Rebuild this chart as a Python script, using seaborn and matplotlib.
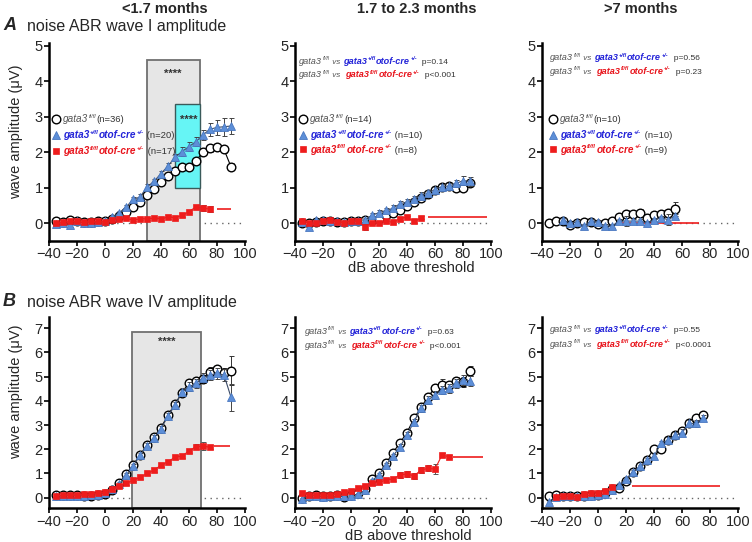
import matplotlib
matplotlib.use("Agg")
import matplotlib.pyplot as plt
from matplotlib.patches import Rectangle
import seaborn as sns

# ---------------- data (dB above threshold / wave amplitude, uV) ----------------
# A: wave I, <1.7 months
db_a1 = list(range(-35, 95, 5))
wt_a1 = [0.05, 0.03, 0.10, 0.05, 0.03, 0.03, 0.05, 0.05, 0.12, 0.20, 0.33, 0.45, 0.60,
         0.80, 0.97, 1.17, 1.33, 1.47, 1.59, 1.59, 1.76, 2.01, 2.11, 2.15, 2.08, 1.59]
wt_a1_err = [0.03, 0.03, 0.04, 0.03, 0.03, 0.03, 0.03, 0.03, 0.04, 0.05, 0.05, 0.06, 0.06,
             0.07, 0.07, 0.08, 0.08, 0.08, 0.08, 0.08, 0.08, 0.09, 0.09, 0.09, 0.10, 0.10]
het_a1 = [-0.02, 0.02, -0.05, 0.05, 0.00, 0.02, 0.03, 0.05, 0.17, 0.29, 0.45, 0.67, 0.74,
          1.02, 1.18, 1.40, 1.61, 1.86, 2.02, 2.16, 2.30, 2.49, 2.65, 2.70, 2.72, 2.74]
het_a1_err = [0.04, 0.04, 0.06, 0.04, 0.04, 0.04, 0.04, 0.04, 0.05, 0.06, 0.07, 0.08, 0.08,
              0.08, 0.08, 0.08, 0.09, 0.10, 0.12, 0.13, 0.13, 0.14, 0.18, 0.22, 0.25, 0.22]
db_a1_ko = list(range(-35, 80, 5))
ko_a1 = [0.00, 0.03, 0.05, 0.05, 0.03, 0.05, 0.05, 0.03, 0.10, 0.12, 0.14, 0.09,
         0.12, 0.13, 0.14, 0.13, 0.17, 0.16, 0.22, 0.33, 0.46, 0.42, 0.40]
ko_a1_err = [0.02, 0.02, 0.02, 0.02, 0.02, 0.02, 0.02, 0.02, 0.03, 0.03, 0.03, 0.03,
             0.03, 0.03, 0.03, 0.03, 0.04, 0.04, 0.04, 0.05, 0.06, 0.08, 0.09]
ko_a1_line = (80, 90, 0.40)

# A: wave I, 1.7 to 2.3 months
db_a2 = list(range(-35, 90, 5))
wt_a2 = [0.00, 0.00, 0.03, 0.05, 0.05, 0.03, 0.03, 0.05, 0.05, 0.08, 0.10, 0.13, 0.24,
         0.29, 0.38, 0.48, 0.60, 0.72, 0.82, 0.93, 1.02, 1.05, 1.00, 0.98, 1.12]
wt_a2_err = [0.03, 0.03, 0.03, 0.03, 0.03, 0.03, 0.03, 0.03, 0.03, 0.04, 0.04, 0.05, 0.05,
             0.05, 0.05, 0.06, 0.06, 0.06, 0.06, 0.06, 0.07, 0.07, 0.07, 0.08, 0.08]
het_a2 = [0.03, -0.10, 0.08, 0.08, 0.05, 0.05, 0.03, 0.07, 0.07, 0.10, 0.22, 0.30, 0.36,
          0.42, 0.55, 0.60, 0.68, 0.78, 0.85, 0.95, 1.03, 1.05, 1.12, 1.20, 1.18]
het_a2_err = [0.04, 0.05, 0.04, 0.04, 0.04, 0.04, 0.04, 0.04, 0.04, 0.05, 0.06, 0.07, 0.08,
              0.08, 0.09, 0.09, 0.09, 0.09, 0.08, 0.08, 0.08, 0.08, 0.10, 0.12, 0.13]
db_a2_ko = list(range(-35, 55, 5))
ko_a2 = [0.07, 0.00, 0.00, 0.07, 0.08, 0.03, 0.02, 0.05, 0.05, -0.10, 0.00, 0.02,
         0.05, 0.03, 0.13, 0.17, 0.05, 0.15]
ko_a2_err = [0.03, 0.03, 0.03, 0.03, 0.03, 0.03, 0.03, 0.03, 0.03, 0.09, 0.03, 0.03,
             0.03, 0.03, 0.04, 0.04, 0.04, 0.04]
ko_a2_line = (55, 97, 0.17)

# A: wave I, >7 months
db_a3 = list(range(-35, 60, 5))
wt_a3 = [0.00, 0.05, 0.05, -0.04, 0.00, 0.03, 0.03, -0.02, 0.00, 0.05, 0.18, 0.27,
         0.27, 0.29, 0.16, 0.22, 0.27, 0.29, 0.39]
wt_a3_err = [0.03, 0.03, 0.03, 0.03, 0.03, 0.03, 0.03, 0.03, 0.04, 0.05, 0.06, 0.10,
             0.08, 0.12, 0.06, 0.08, 0.10, 0.10, 0.20]
db_a3_het = list(range(-25, 60, 5))
het_a3 = [0.10, 0.00, 0.03, -0.08, 0.07, 0.04, -0.08, -0.08, 0.06, 0.06, 0.06, 0.06,
          0.00, 0.10, 0.16, 0.10, 0.20]
het_a3_err = [0.04, 0.04, 0.04, 0.05, 0.04, 0.04, 0.05, 0.05, 0.05, 0.15, 0.05, 0.05,
              0.05, 0.05, 0.05, 0.15, 0.06]
ko_a3_line = (15, 72, 0.0)

# B: wave IV, <1.7 months
db_b1 = list(range(-35, 95, 5))
wt_b1 = [0.10, 0.10, 0.10, 0.10, 0.08, 0.05, 0.12, 0.15, 0.32, 0.60, 0.98, 1.35, 1.76,
         2.18, 2.52, 2.89, 3.42, 3.86, 4.34, 4.75, 4.83, 4.89, 5.20, 5.30, 5.17, 5.25]
wt_b1_err = [0.04, 0.04, 0.04, 0.04, 0.04, 0.04, 0.04, 0.05, 0.06, 0.08, 0.10, 0.10, 0.12,
             0.12, 0.12, 0.12, 0.13, 0.14, 0.15, 0.15, 0.15, 0.15, 0.18, 0.15, 0.20, 0.60]
het_b1 = [0.05, 0.08, 0.08, 0.08, 0.08, 0.10, 0.12, 0.20, 0.35, 0.55, 0.92, 1.30, 1.75,
          2.15, 2.45, 2.85, 3.38, 3.82, 4.38, 4.58, 4.72, 4.96, 5.07, 5.14, 5.07, 4.15]
het_b1_err = [0.04, 0.04, 0.04, 0.04, 0.04, 0.04, 0.05, 0.05, 0.06, 0.08, 0.10, 0.10, 0.10,
              0.12, 0.12, 0.12, 0.13, 0.14, 0.15, 0.18, 0.18, 0.18, 0.20, 0.22, 0.25, 0.55]
db_b1_ko = list(range(-35, 80, 5))
ko_b1 = [0.07, 0.11, 0.12, 0.12, 0.14, 0.15, 0.20, 0.23, 0.37, 0.50, 0.59, 0.73,
         0.84, 1.00, 1.14, 1.34, 1.49, 1.67, 1.72, 1.93, 2.11, 2.13, 2.08]
ko_b1_err = [0.03, 0.03, 0.03, 0.03, 0.03, 0.03, 0.04, 0.04, 0.05, 0.05, 0.05, 0.05,
             0.06, 0.06, 0.06, 0.07, 0.07, 0.08, 0.08, 0.09, 0.10, 0.15, 0.08]
ko_b1_line = (78, 89, 2.15)

# B: wave IV, 1.7 to 2.3 months
db_b2 = list(range(-35, 90, 5))
wt_b2 = [-0.03, 0.08, 0.10, 0.05, 0.08, 0.10, 0.04, 0.10, 0.18, 0.34, 0.76, 1.00, 1.42,
         1.86, 2.27, 2.69, 3.28, 3.73, 4.17, 4.55, 4.66, 4.66, 4.82, 4.79, 5.23]
wt_b2_err = [0.04, 0.04, 0.04, 0.04, 0.04, 0.04, 0.04, 0.05, 0.05, 0.06, 0.08, 0.08, 0.10,
             0.10, 0.12, 0.12, 0.13, 0.14, 0.15, 0.15, 0.25, 0.18, 0.18, 0.20, 0.22]
het_b2 = [-0.05, 0.08, 0.08, 0.02, 0.05, 0.05, 0.05, 0.08, 0.15, 0.30, 0.70, 0.95, 1.35,
          1.72, 2.10, 2.59, 3.14, 3.69, 4.04, 4.24, 4.45, 4.52, 4.72, 4.86, 4.83]
het_b2_err = [0.04, 0.04, 0.04, 0.04, 0.04, 0.04, 0.04, 0.05, 0.05, 0.06, 0.08, 0.08, 0.10,
              0.10, 0.12, 0.12, 0.13, 0.14, 0.15, 0.15, 0.18, 0.18, 0.18, 0.20, 0.20]
db_b2_ko = list(range(-35, 75, 5))
ko_b2 = [0.20, 0.11, 0.11, 0.11, 0.11, 0.14, 0.25, 0.29, 0.39, 0.50, 0.60, 0.63,
         0.73, 0.77, 0.94, 0.98, 0.90, 1.14, 1.21, 1.18, 1.76, 1.69]
ko_b2_err = [0.04, 0.03, 0.03, 0.03, 0.03, 0.03, 0.04, 0.04, 0.05, 0.05, 0.06, 0.06,
             0.07, 0.07, 0.12, 0.12, 0.12, 0.12, 0.12, 0.22, 0.08, 0.06]
ko_b2_line = (73, 94, 1.70)

# B: wave IV, >7 months
db_b3 = list(range(-35, 80, 5))
wt_b3 = [0.07, 0.10, 0.05, 0.05, 0.05, 0.08, 0.10, 0.10, 0.18, 0.35, 0.39, 0.67,
         1.08, 1.32, 1.57, 2.03, 2.03, 2.40, 2.58, 2.75, 3.10, 3.30, 3.42]
wt_b3_err = [0.03, 0.03, 0.03, 0.03, 0.03, 0.03, 0.04, 0.04, 0.05, 0.06, 0.06, 0.07,
             0.08, 0.08, 0.10, 0.12, 0.12, 0.12, 0.12, 0.15, 0.15, 0.15, 0.12]
het_b3 = [-0.17, 0.04, 0.05, 0.05, 0.05, 0.08, 0.08, 0.10, 0.15, 0.30, 0.53, 0.76,
          1.08, 1.29, 1.54, 1.71, 2.24, 2.38, 2.58, 2.68, 3.07, 3.07, 3.30]
het_b3_err = [0.05, 0.04, 0.04, 0.04, 0.04, 0.04, 0.04, 0.05, 0.05, 0.06, 0.07, 0.08,
              0.08, 0.08, 0.10, 0.10, 0.12, 0.12, 0.12, 0.14, 0.15, 0.15, 0.12]
db_b3_ko = list(range(-30, 15, 5))
ko_b3 = [0.04, 0.08, 0.07, 0.04, 0.14, 0.20, 0.20, 0.29, 0.42]
ko_b3_err = [0.03, 0.03, 0.03, 0.03, 0.03, 0.04, 0.04, 0.05, 0.05]
ko_b3_line = (24, 87, 0.50)

n_counts = {"a1": (36, 20, 17), "a2": (14, 10, 8), "a3": (10, 10, 9)}
p_values = {"a2": ("p=0.14", "p<0.001"), "a3": ("p=0.56", "p=0.23"),
            "b2": ("p=0.63", "p<0.001"), "b3": ("p=0.55", "p<0.0001")}
age_titles = ["<1.7 months", "1.7 to 2.3 months", ">7 months"]

# ---------------- style ----------------
sns.set_style("ticks")
plt.rcParams["font.family"] = ["Liberation Sans", "DejaVu Sans"]

GRAY_TXT = "#555555"
BLUE_TXT = "#2323d8"
RED_TXT = "#e8141c"
BLUE = "#5d8fd8"
RED = "#ee1c1c"

STYLES = {
    "wt": dict(marker="o", ms=6.2, face="white", edge="black", mew=1.0, line="black", ecolor="#333333"),
    "het": dict(marker="^", ms=5.8, face=BLUE, edge="#4a78c0", mew=0.6, line="#3a4a66", ecolor="#444444"),
    "ko": dict(marker="s", ms=5.0, face=RED, edge=RED, mew=0.5, line=RED, ecolor="#555555"),
}


def genotype(kind, color, fs):
    # pieces of a genotype label: (text, color, size, weight, rise in points)
    sup = fs * 0.6
    rise = fs * 0.42
    if kind == "wt":
        return [("gata3", color, fs, "normal", 0), ("fl/fl", color, sup, "normal", rise)]
    first = "+/fl" if kind == "het" else "fl/fl"
    return [("gata3", color, fs, "bold", 0), (first, color, sup, "bold", rise),
            ("otof-cre", color, fs, "bold", 0), ("+/-", color, sup, "bold", rise)]


def chain_text(ax, x, y, parts, italic_upto=None):
    # parts: (text, color, size, weight, rise, style); all share one baseline
    base = -2.3
    t = None
    for s, c, fs, wgt, rise, sty in parts:
        if t is None:
            t = ax.annotate(s, xy=(x, y), xycoords="data", xytext=(0, base + rise),
                            textcoords="offset points", color=c, fontsize=fs, fontweight=wgt,
                            style=sty, ha="left", va="baseline", zorder=10)
        else:
            t = ax.annotate(s, xy=(1, y), xycoords=(t, "data"), xytext=(0.3, base + rise),
                            textcoords="offset points", color=c, fontsize=fs, fontweight=wgt,
                            style=sty, ha="left", va="baseline", zorder=10)


def ital(pieces):
    return [p + ("italic",) for p in pieces]


def plain(s, c, fs):
    return [(s, c, fs, "normal", 0, "normal")]


def setup_axes(ax, ylim, yticks):
    ax.set_xlim(-40, 100)
    ax.set_ylim(*ylim)
    ax.set_xticks(range(-40, 101, 20))
    ax.set_yticks(yticks)
    ax.tick_params(axis="both", labelsize=10.5, width=1.2, length=3.5, pad=1.0, color="black")
    for side in ["top", "right"]:
        ax.spines[side].set_visible(False)
    for side in ["left", "bottom"]:
        ax.spines[side].set_linewidth(1.8)
        ax.spines[side].set_color("black")
    ax.hlines(0, 0, 100, colors="#666666", linestyles=(0, (1, 3.2)), lw=1.0, zorder=0)
    ax.set_xlabel("")
    ax.set_ylabel("")


def draw_series(ax, x, y, err, kind, z):
    st = STYLES[kind]
    ax.errorbar(x, y, yerr=err, fmt="none", ecolor=st["ecolor"], elinewidth=0.7,
                capsize=1.8, capthick=0.7, zorder=z)
    sns.lineplot(x=x, y=y, ax=ax, color=st["line"], lw=0.8, marker=st["marker"],
                 markersize=st["ms"], markerfacecolor=st["face"],
                 markeredgecolor=st["edge"], markeredgewidth=st["mew"], zorder=z + 0.5)


def legend_block(ax, xm, xt, ys, counts):
    cols = {"wt": GRAY_TXT, "het": BLUE_TXT, "ko": RED_TXT}
    for kind, yy, n in zip(["wt", "het", "ko"], ys, counts):
        st = STYLES[kind]
        ax.plot([xm], [yy], marker=st["marker"], ms=st["ms"], mfc=st["face"],
                mec=st["edge"], mew=st["mew"], ls="none", zorder=10, clip_on=False)
        n_txt = "(n=%d)" % n if kind == "wt" else " (n=%d)" % n
        chain_text(ax, xt, yy, ital(genotype(kind, cols[kind], 7.2)) + plain(n_txt, "#333333", 6.8))


def compare_block(ax, x, y1, y2, pv):
    fs = 6.6
    vs = [(" vs ", GRAY_TXT, 5.8, "normal", 0, "italic")]
    chain_text(ax, x, y1, ital(genotype("wt", GRAY_TXT, fs)) + vs +
               ital(genotype("het", BLUE_TXT, fs)) + plain("  " + pv[0], "#333333", 6.0))
    vs2 = [(" vs  ", GRAY_TXT, 5.8, "normal", 0, "italic")]
    chain_text(ax, x, y2, ital(genotype("wt", GRAY_TXT, fs)) + vs2 +
               ital(genotype("ko", RED_TXT, fs)) + plain("  " + pv[1], "#333333", 6.0))


fig = plt.figure(figsize=(7.52, 5.42), dpi=100)
lefts = [0.0652, 0.3923, 0.7207]
w = 0.2606
ax_a = [fig.add_axes([l, 0.5554, w, 0.3653]) for l in lefts]
ax_b = [fig.add_axes([l, 0.0622, w, 0.3535]) for l in lefts]

ylim_a = (-0.5, 5.08)
ylim_b = (-0.44, 7.48)
for ax in ax_a:
    setup_axes(ax, ylim_a, range(0, 6))
for ax in ax_b:
    setup_axes(ax, ylim_b, range(0, 8))

# ---- A1 ----
ax = ax_a[0]
ax.add_patch(Rectangle((30, ylim_a[0]), 38, 4.6 - ylim_a[0], fc="#e6e6e6", ec="#707070", lw=1.3, zorder=0.5))
ax.add_patch(Rectangle((50, 1.0), 18, 2.35, fc="#66f5f5", ec="#3a5a5a", lw=1.0, zorder=0.6))
ax.text(48.5, 4.2, "****", ha="center", va="center", fontsize=8, fontweight="bold", color="#333333", zorder=10)
ax.text(59.5, 2.9, "****", ha="center", va="center", fontsize=8, fontweight="bold", color="#333333", zorder=10)
draw_series(ax, db_a1, wt_a1, wt_a1_err, "wt", 2)
draw_series(ax, db_a1, het_a1, het_a1_err, "het", 3)
draw_series(ax, db_a1_ko, ko_a1, ko_a1_err, "ko", 4)
ax.hlines(ko_a1_line[2], ko_a1_line[0], ko_a1_line[1], colors=RED, lw=1.2, zorder=4)
legend_block(ax, -35, -30, (2.94, 2.49, 2.04), n_counts["a1"])

# ---- A2 ----
ax = ax_a[1]
draw_series(ax, db_a2, wt_a2, wt_a2_err, "wt", 2)
draw_series(ax, db_a2, het_a2, het_a2_err, "het", 3)
draw_series(ax, db_a2_ko, ko_a2, ko_a2_err, "ko", 4)
ax.hlines(ko_a2_line[2], ko_a2_line[0], ko_a2_line[1], colors=RED, lw=1.2, zorder=4)
compare_block(ax, -37, 4.58, 4.2, p_values["a2"])
legend_block(ax, -34, -29, (2.93, 2.48, 2.08), n_counts["a2"])

# ---- A3 ----
ax = ax_a[2]
draw_series(ax, db_a3, wt_a3, wt_a3_err, "wt", 2)
draw_series(ax, db_a3_het, het_a3, het_a3_err, "het", 3)
ax.hlines(ko_a3_line[2], ko_a3_line[0], ko_a3_line[1], colors=RED, lw=1.2, zorder=1.5)
compare_block(ax, -34, 4.68, 4.29, p_values["a3"])
legend_block(ax, -32, -27, (2.93, 2.5, 2.08), n_counts["a3"])

# ---- B1 ----
ax = ax_b[0]
ax.add_patch(Rectangle((19, ylim_b[0]), 49.5, 6.85 - ylim_b[0], fc="#e6e6e6", ec="#707070", lw=1.3, zorder=0.5))
ax.text(44, 6.45, "****", ha="center", va="center", fontsize=8, fontweight="bold", color="#333333", zorder=10)
draw_series(ax, db_b1, wt_b1, wt_b1_err, "wt", 2)
draw_series(ax, db_b1, het_b1, het_b1_err, "het", 3)
draw_series(ax, db_b1_ko, ko_b1, ko_b1_err, "ko", 4)
ax.hlines(ko_b1_line[2], ko_b1_line[0], ko_b1_line[1], colors=RED, lw=1.2, zorder=4)

# ---- B2 ----
ax = ax_b[1]
draw_series(ax, db_b2, wt_b2, wt_b2_err, "wt", 2)
draw_series(ax, db_b2, het_b2, het_b2_err, "het", 3)
draw_series(ax, db_b2_ko, ko_b2, ko_b2_err, "ko", 4)
ax.hlines(ko_b2_line[2], ko_b2_line[0], ko_b2_line[1], colors=RED, lw=1.2, zorder=4)
compare_block(ax, -33, 6.9, 6.31, p_values["b2"])

# ---- B3 ----
ax = ax_b[2]
draw_series(ax, db_b3, wt_b3, wt_b3_err, "wt", 2)
draw_series(ax, db_b3, het_b3, het_b3_err, "het", 3)
draw_series(ax, db_b3_ko, ko_b3, ko_b3_err, "ko", 4)
ax.hlines(ko_b3_line[2], ko_b3_line[0], ko_b3_line[1], colors=RED, lw=1.2, zorder=4)
compare_block(ax, -34, 6.96, 6.36, p_values["b3"])

# ---- figure texts ----
for xc, t in zip([165, 417, 641], age_titles):
    fig.text(xc / 752, 1 - 9 / 542, t, ha="center", va="center", fontsize=10.5, fontweight="bold")
fig.text(3 / 752, 1 - 25 / 542, "A", ha="left", va="center", fontsize=13, fontweight="bold", style="italic")
fig.text(27 / 752, 1 - 26 / 542, "noise ABR wave I amplitude", ha="left", va="center", fontsize=11.5)
fig.text(3 / 752, 1 - 301 / 542, "B", ha="left", va="center", fontsize=13, fontweight="bold", style="italic")
fig.text(27 / 752, 1 - 302 / 542, "noise ABR wave IV amplitude", ha="left", va="center", fontsize=11.5)
fig.text(411 / 752, 1 - 268 / 542, "dB above threshold", ha="center", va="center", fontsize=10.5)
fig.text(408 / 752, 1 - 536 / 542, "dB above threshold", ha="center", va="center", fontsize=10.5)
fig.text(16 / 752, 1 - 132 / 542, "wave amplitude (\u03bcV)", ha="center", va="center", rotation=90, fontsize=10.5)
fig.text(16 / 752, 1 - 392 / 542, "wave amplitude (\u03bcV)", ha="center", va="center", rotation=90, fontsize=10.5)

fig.savefig("out.png", dpi=100)
